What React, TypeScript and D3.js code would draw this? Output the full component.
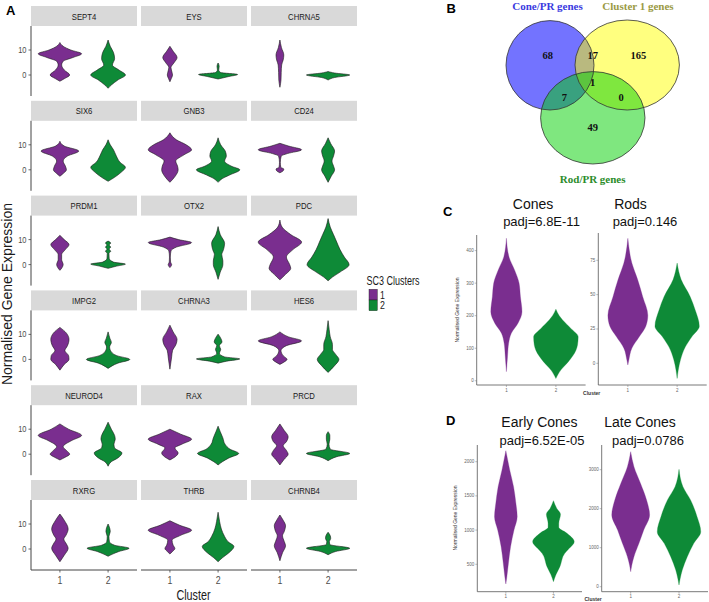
import React from 'react';
import * as d3 from 'd3';

type Pt = [number, number];

const PURPLE = '#7a2e8f';
const GREEN = '#0e8a37';
const clusterColors = [PURPLE, GREEN];

const clusters = ['1', '2'];
const genes = ['SEPT4', 'EYS', 'CHRNA5', 'SIX6', 'GNB3', 'CD24', 'PRDM1', 'OTX2', 'PDC',
  'IMPG2', 'CHRNA3', 'HES6', 'NEUROD4', 'RAX', 'PRCD', 'RXRG', 'THRB', 'CHRNB4'];
const yTicksA = [0, 10];

// violin outlines, top to bottom: [expression, relative half width], [cluster 1, cluster 2]
const SEPT4: Pt[][] = [
  [[13, 0], [11.5, 0.15], [10, 0.5], [8.5, 1.0], [7, 0.6], [5.5, 0.15], [4, 0.08], [2, 0.2], [0, 0.45], [-1.5, 0.2], [-2.5, 0]],
  [[14, 0], [11.5, 0.1], [9, 0.25], [6.5, 0.3], [4, 0.2], [2, 0.5], [0, 0.8], [-2, 0.45], [-4, 0.15], [-5.3, 0]],
];
const EYS: Pt[][] = [
  [[11.5, 0], [9.5, 0.15], [7, 0.33], [5, 0.2], [3, 0.05], [1, 0.1], [0, 0.12], [-1.5, 0.06], [-2.7, 0]],
  [[4.8, 0], [3.5, 0.05], [2, 0.03], [1, 0.12], [0.2, 0.9], [-0.6, 0.5], [-1.6, 0]],
];
const CHRNA5: Pt[][] = [
  [[14, 0], [11, 0.07], [8, 0.18], [6, 0.15], [4, 0.08], [1, 0.06], [-2, 0.05], [-4.9, 0]],
  [[1.4, 0], [0.8, 0.3], [0, 1.0], [-1, 0.3], [-2, 0]],
];
const SIX6: Pt[][] = [
  [[11.4, 0], [9.5, 0.2], [7.5, 0.87], [5.5, 0.35], [3.5, 0.15], [1.5, 0.25], [0, 0.3], [-1.5, 0.15], [-2.6, 0]],
  [[12, 0], [10, 0.1], [8, 0.25], [5.5, 0.38], [3, 0.55], [1, 0.8], [-1, 0.6], [-3, 0.3], [-4.6, 0]],
];
const GNB3: Pt[][] = [
  [[14.8, 0], [12, 0.3], [10, 0.75], [8, 1.0], [6, 0.65], [3.5, 0.27], [1.5, 0.35], [0, 0.38], [-2.5, 0.25], [-5, 0]],
  [[12.8, 0], [10, 0.12], [7.5, 0.33], [5.5, 0.38], [3.5, 0.3], [1.5, 0.6], [0, 1.0], [-2, 0.55], [-3.5, 0.2], [-5, 0]],
];
const CD24: Pt[][] = [
  [[10.6, 0], [9.5, 0.4], [8, 1.0], [6.5, 0.35], [5.5, 0.06], [3, 0.02], [1, 0.04], [0.3, 0.18], [-0.4, 0.15], [-1.2, 0]],
  [[12.8, 0], [10.5, 0.12], [7.5, 0.3], [5.5, 0.25], [3.5, 0.18], [1.5, 0.25], [0, 0.3], [-2.5, 0.15], [-5, 0]],
];
const PRDM1: Pt[][] = [
  [[11.7, 0], [10, 0.2], [8, 0.42], [6, 0.25], [4, 0.08], [2, 0.08], [0, 0.15], [-1.2, 0.1], [-2.3, 0]],
  [[9.4, 0], [8.6, 0.12], [7.8, 0.05], [7, 0.12], [6.2, 0.05], [5.3, 0.12], [4.5, 0.04], [2.5, 0.05], [1, 0.25], [0.2, 0.8], [-0.6, 0.4], [-1.5, 0]],
];
const OTX2: Pt[][] = [
  [[11, 0], [10, 0.4], [8.8, 1.0], [7, 0.3], [5.5, 0.05], [3, 0.02], [1, 0.03], [0, 0.08], [-1.2, 0]],
  [[15.2, 0], [12, 0.1], [8.5, 0.3], [6, 0.25], [4, 0.17], [1.5, 0.22], [0, 0.22], [-3, 0.1], [-5.9, 0]],
];
const PDC: Pt[][] = [
  [[17.8, 0], [15, 0.1], [12, 0.5], [9, 1.0], [6, 0.6], [3, 0.3], [0, 0.45], [-1.5, 0.5], [-4, 0.25], [-6.1, 0]],
  [[18.4, 0], [15, 0.1], [12, 0.25], [9, 0.4], [6, 0.55], [3, 0.75], [0, 0.97], [-3, 0.55], [-5, 0.2], [-6.5, 0]],
];
const IMPG2: Pt[][] = [
  [[12.8, 0], [10.5, 0.3], [8, 0.42], [5.5, 0.35], [3.5, 0.23], [1.5, 0.4], [0, 0.42], [-2, 0.2], [-4.3, 0]],
  [[11, 0], [8.5, 0.08], [6.8, 0.15], [5, 0.07], [3, 0.15], [1.5, 0.4], [0, 1.0], [-1.5, 0.45], [-3.6, 0]],
];
const CHRNA3: Pt[][] = [
  [[13.7, 0], [11, 0.15], [8, 0.33], [6, 0.28], [3.5, 0.12], [1, 0.08], [-1.5, 0.04], [-3.9, 0]],
  [[10.1, 0], [8.5, 0.12], [7, 0.18], [5.5, 0.06], [4, 0.12], [2.5, 0.06], [1, 0.3], [0.2, 1.0], [-0.7, 0.4], [-1.5, 0]],
];
const HES6: Pt[][] = [
  [[11, 0], [9, 0.4], [7.4, 1.0], [5.5, 0.3], [3.5, 0.05], [1.5, 0.15], [0, 0.33], [-1, 0.2], [-2, 0]],
  [[15.5, 0], [12, 0.05], [9, 0.1], [6, 0.2], [4, 0.2], [2, 0.35], [0, 0.5], [-2.5, 0.3], [-5.2, 0]],
];
const NEUROD4: Pt[][] = [
  [[12.1, 0], [10, 0.4], [7.5, 1.0], [5.5, 0.55], [3, 0.15], [1.5, 0.3], [0, 0.45], [-1.2, 0.25], [-2.3, 0]],
  [[12.8, 0], [10, 0.15], [7.5, 0.3], [6, 0.33], [4, 0.27], [2.5, 0.3], [0.5, 0.64], [-1.5, 0.45], [-3, 0.15], [-4.8, 0]],
];
const RAX: Pt[][] = [
  [[10, 0], [8, 0.5], [6, 1.0], [4, 0.55], [2.5, 0.23], [0.5, 0.38], [-1, 0.25], [-2.3, 0]],
  [[11.2, 0], [9, 0.1], [6.5, 0.22], [4, 0.32], [2, 0.55], [0.3, 0.95], [-1.5, 0.5], [-3, 0.2], [-4.3, 0]],
];
const PRCD: Pt[][] = [
  [[12.1, 0], [9.5, 0.2], [7, 0.38], [5, 0.3], [3.4, 0.15], [1.5, 0.3], [0, 0.38], [-2, 0.2], [-4.3, 0]],
  [[9, 0], [7.5, 0.08], [6, 0.08], [4, 0.04], [2, 0.1], [0.3, 1.0], [-1, 0.4], [-2.6, 0]],
];
const RXRG: Pt[][] = [
  [[14, 0], [11.5, 0.2], [8, 0.38], [5.5, 0.28], [4, 0.18], [2, 0.3], [0.3, 0.38], [-2.5, 0.2], [-5.1, 0]],
  [[10, 0], [8.5, 0.07], [7, 0.1], [5, 0.04], [3, 0.06], [1.5, 0.3], [0.3, 0.97], [-1, 0.5], [-2.9, 0]],
];
const THRB: Pt[][] = [
  [[11.3, 0], [9.5, 0.45], [7.5, 1.0], [5.5, 0.5], [3.5, 0.1], [1.5, 0.15], [0.2, 0.23], [-1, 0.12], [-2, 0]],
  [[14.7, 0], [11, 0.07], [8, 0.15], [5, 0.3], [3, 0.45], [1, 0.73], [-1.5, 0.5], [-3.5, 0.2], [-5.1, 0]],
];
const CHRNB4: Pt[][] = [
  [[13.6, 0], [11.5, 0.15], [9.3, 0.26], [7, 0.2], [5.3, 0.12], [3, 0.2], [1.3, 0.26], [-1.5, 0.12], [-4.7, 0]],
  [[6.7, 0], [5.3, 0.1], [4.2, 0.12], [3, 0.06], [1.8, 0.08], [0.3, 1.0], [-1, 0.35], [-2.3, 0]],
];
const geneViolins = [SEPT4, EYS, CHRNA5, SIX6, GNB3, CD24, PRDM1, OTX2, PDC,
  IMPG2, CHRNA3, HES6, NEUROD4, RAX, PRCD, RXRG, THRB, CHRNB4];

// panels C and D
const conesViolins: Pt[][] = [
  [[438, 0], [380, 0.12], [340, 0.37], [300, 0.57], [258, 0.63], [212, 0.7], [177, 0.52], [146, 0.22], [115, 0.1], [74, 0.05], [28, 0]],
  [[220, 0], [200, 0.15], [187, 0.3], [161, 0.67], [135, 1.0], [110, 0.97], [94, 0.9], [58, 0.55], [33, 0.22], [7, 0]],
];
const rodsViolins: Pt[][] = [
  [[91, 0], [73, 0.18], [61, 0.44], [48.5, 0.67], [35, 0.9], [27, 0.81], [19.5, 0.52], [11, 0.18], [2, 0.04], [-1.2, 0]],
  [[73, 0], [61, 0.18], [48.5, 0.59], [39, 0.81], [27, 1.0], [19.5, 0.67], [12, 0.37], [2.5, 0.15], [-5, 0.05], [-11, 0]],
];
const earlyConesViolins: Pt[][] = [
  [[2161, 0], [1880, 0.18], [1635, 0.36], [1390, 0.47], [1196, 0.53], [1000, 0.38], [757, 0.22], [514, 0.12], [300, 0.04], [212, 0]],
  [[1430, 0], [1320, 0.15], [1230, 0.33], [1100, 0.25], [1040, 0.25], [960, 0.6], [830, 0.97], [720, 0.7], [660, 0.53], [465, 0.3], [350, 0.12], [246, 0]],
];
const lateConesViolins: Pt[][] = [
  [[3462, 0], [3077, 0.15], [2650, 0.45], [2223, 0.73], [1840, 0.87], [1454, 0.6], [1113, 0.38], [770, 0.15], [550, 0.05], [385, 0]],
  [[3010, 0], [2564, 0.18], [2223, 0.53], [1795, 0.83], [1410, 1.0], [1113, 0.68], [769, 0.38], [428, 0.15], [200, 0.05], [44, 0]],
];
const conesTicks = [0, 100, 200, 300, 400];
const rodsTicks = [0, 25, 50, 75];
const earlyConesTicks = [500, 1000, 1500, 2000];
const lateConesTicks = [0, 1000, 2000, 3000];
const subTitles = ['Cones', 'Rods', 'Early Cones', 'Late Cones'];
const padjLabels = ['padj=6.8E-11', 'padj=0.146', 'padj=6.52E-05', 'padj=0.0786'];

// panel B
const vennSets = ['Cone/PR genes', 'Cluster 1 genes', 'Rod/PR genes'];
const vennCounts = [68, 17, 165, 1, 7, 0, 49];

const SANS = "'Liberation Sans', Arial, sans-serif";
const SERIF = "'Liberation Serif', 'Times New Roman', serif";

// Arial Narrow look-alike: squeeze Liberation Sans horizontally
const Narrow = ({ x, y, size, sx = 0.82, anchor = 'start', fill = '#1a1a1a', children }:
  { x: number; y: number; size: number; sx?: number; anchor?: string; fill?: string; children: React.ReactNode }) => (
  <text transform={`translate(${x},${y}) scale(${sx},1)`} textAnchor={anchor} fontSize={size} fill={fill}
    fontFamily={SANS}>{children}</text>
);

const violinPath = (profile: Pt[], cx: number, half: number, y: d3.ScaleLinear<number, number>) =>
  d3.area<Pt>()
    .y(d => y(d[0]))
    .x0(d => cx - d[1] * half)
    .x1(d => cx + d[1] * half)
    .curve(d3.curveMonotoneY)(profile) || '';

const PanelA = () => {
  const colX = [31, 141, 251];
  const colW = 106;
  const stripH = 20;
  const panelH = 70;
  const nodes: React.ReactNode[] = [];

  genes.forEach((gene, i) => {
    const r = Math.floor(i / 3);
    const c = i % 3;
    const top = 6 + r * 94.8;
    const x = d3.scalePoint().domain(clusters).range([colX[c], colX[c] + colW]).padding(0.6);
    const y = d3.scaleLinear().domain([-8.4, 19.6]).range([top + stripH + panelH, top + stripH]);
    const half = x.step() * 0.45;
    nodes.push(
      <g key={gene}>
        <rect x={colX[c]} y={top} width={colW} height={stripH} fill="#d9d9d9" />
        <Narrow x={colX[c] + colW / 2} y={top + 13.5} size={9} sx={0.86} anchor="middle">{gene}</Narrow>
        {geneViolins[i].map((prof, k) => (
          <path key={k} d={violinPath(prof, x(clusters[k])!, half, y)} fill={clusterColors[k]}
            stroke="#1a1a1a" strokeWidth={0.6} />
        ))}
        {c === 0 && (
          <g>
            <line x1={colX[0]} x2={colX[0]} y1={y.range()[1]} y2={y.range()[0]} stroke="#444" strokeWidth={1} />
            {yTicksA.map(t => (
              <g key={t}>
                <line x1={colX[0] - 2.5} x2={colX[0]} y1={y(t)} y2={y(t)} stroke="#444" strokeWidth={0.8} />
                <Narrow x={colX[0] - 4.5} y={y(t) + 3} size={8.5} sx={0.88} anchor="end" fill="#4d4d4d">{t}</Narrow>
              </g>
            ))}
          </g>
        )}
        {r === 5 && (
          <g>
            <line x1={colX[c]} x2={colX[c] + colW} y1={y.range()[0]} y2={y.range()[0]} stroke="#444" strokeWidth={1} />
            {clusters.map(k => (
              <g key={k}>
                <line x1={x(k)} x2={x(k)} y1={y.range()[0]} y2={y.range()[0] + 2.5} stroke="#444" strokeWidth={0.8} />
                <Narrow x={x(k)!} y={y.range()[0] + 14} size={11} sx={0.8} anchor="middle" fill="#4d4d4d">{k}</Narrow>
              </g>
            ))}
          </g>
        )}
      </g>
    );
  });

  return (
    <g>
      {nodes}
      <text x={6} y={15} fontSize={13} fontWeight="bold" fontFamily={SANS}>A</text>
      <text transform="translate(12,294) rotate(-90)" textAnchor="middle" fontSize={14} fill="#1a1a1a"
        fontFamily={SANS}>Normalised Gene Expression</text>
      <Narrow x={193.5} y={599.5} size={14} sx={0.77} anchor="middle">Cluster</Narrow>
      <Narrow x={366.5} y={285} size={12.5} sx={0.72}>SC3 Clusters</Narrow>
      {clusters.map((k, i) => (
        <g key={k}>
          <rect x={369} y={289.3 + i * 10.7} width={8.3} height={10.7} fill={clusterColors[i]}
            stroke="#1a1a1a" strokeWidth={0.4} />
          <Narrow x={380} y={298.5 + i * 10.7} size={11} sx={0.8}>{k}</Narrow>
        </g>
      ))}
    </g>
  );
};

const PanelB = () => {
  const shapes = [
    { cx: 550, cy: 65.3, rx: 44, ry: 44.7, fill: '#0000ff', op: 0.55 },
    { cx: 627.2, cy: 65, rx: 52.2, ry: 45, fill: '#ffff00', op: 0.5 },
    { cx: 592.8, cy: 117.8, rx: 52.2, ry: 46.2, fill: '#00d000', op: 0.5 },
  ];
  const titleColors = ['#3a3ae0', '#9a9a44', '#2b8c2b'];
  const titlePos: Pt[] = [[547.5, 9.5], [638, 9.5], [592.7, 183]];
  const countPos: Pt[] = [[547.7, 55], [592.7, 55], [638.3, 55], [592.7, 81.7], [564.3, 96.7], [621, 96.7], [592.7, 127.3]];
  return (
    <g>
      <text x={446.5} y={13.3} fontSize={13} fontWeight="bold" fontFamily={SANS}>B</text>
      {shapes.map((s, i) => (
        <ellipse key={i} cx={s.cx} cy={s.cy} rx={s.rx} ry={s.ry} fill={s.fill} fillOpacity={s.op} />
      ))}
      {shapes.map((s, i) => (
        <ellipse key={'o' + i} cx={s.cx} cy={s.cy} rx={s.rx} ry={s.ry} fill="none" stroke="#333" strokeWidth={0.8} />
      ))}
      {vennSets.map((s, i) => (
        <text key={s} x={titlePos[i][0]} y={titlePos[i][1]} textAnchor="middle" fontSize={11}
          fontWeight="bold" fill={titleColors[i]} fontFamily={SERIF}>{s}</text>
      ))}
      {vennCounts.map((n, i) => (
        <text key={i} x={countPos[i][0]} y={countPos[i][1] + 3.8} textAnchor="middle" fontSize={10.5}
          fontWeight="bold" fill="#111" fontFamily={SERIF}>{n}</text>
      ))}
    </g>
  );
};

type SmallProps = {
  left: number; right: number; top: number; bottom: number; domain: [number, number];
  ticks: number[]; violins: Pt[][]; title: string; padj: string;
  titleX: number; titleY: number; padjX: number; padjY: number;
};

const SmallViolin = (p: SmallProps) => {
  const x = d3.scalePoint().domain(clusters).range([p.left, p.right]).padding(0.6);
  const y = d3.scaleLinear().domain(p.domain).range([p.bottom, p.top]);
  const half = x.step() * 0.45;
  return (
    <g>
      <text x={p.titleX} y={p.titleY} textAnchor="middle" fontSize={14} fill="#111" fontFamily={SANS}>{p.title}</text>
      <text x={p.padjX} y={p.padjY} textAnchor="middle" fontSize={13} fill="#111" fontFamily={SANS}>{p.padj}</text>
      {p.violins.map((prof, k) => (
        <path key={k} d={violinPath(prof, x(clusters[k])!, half, y)} fill={clusterColors[k]}
          stroke={clusterColors[k]} strokeWidth={0.3} />
      ))}
      <line x1={p.left} x2={p.left} y1={p.top} y2={p.bottom} stroke="#555" strokeWidth={0.8} />
      <line x1={p.left} x2={p.right} y1={p.bottom} y2={p.bottom} stroke="#555" strokeWidth={0.8} />
      {p.ticks.map(t => (
        <g key={t}>
          <line x1={p.left - 2} x2={p.left} y1={y(t)} y2={y(t)} stroke="#777" strokeWidth={0.5} />
          <text x={p.left - 3} y={y(t) + 1.5} textAnchor="end" fontSize={4.5} fill="#666" fontFamily={SANS}>{t}</text>
        </g>
      ))}
      {clusters.map(k => (
        <g key={k}>
          <line x1={x(k)} x2={x(k)} y1={p.bottom} y2={p.bottom + 2} stroke="#777" strokeWidth={0.5} />
          <text x={x(k)} y={p.bottom + 6.5} textAnchor="middle" fontSize={4.5} fill="#666" fontFamily={SANS}>{k}</text>
        </g>
      ))}
    </g>
  );
};

const PanelCD = () => (
  <g>
    <text x={443} y={215.5} fontSize={13} fontWeight="bold" fontFamily={SANS}>C</text>
    <SmallViolin left={476.7} right={585.6} top={235} bottom={385} domain={[-13, 448]} ticks={conesTicks}
      violins={conesViolins} title={subTitles[0]} padj={padjLabels[0]}
      titleX={533} titleY={208.5} padjX={541.5} padjY={226} />
    <SmallViolin left={598.3} right={706.7} top={233} bottom={385} domain={[-15.8, 94.9]} ticks={rodsTicks}
      violins={rodsViolins} title={subTitles[1]} padj={padjLabels[1]}
      titleX={630.5} titleY={208.5} padjX={645} padjY={226} />
    <text transform="translate(459,310) rotate(-90)" textAnchor="middle" fontSize={5} fill="#333"
      fontFamily={SANS}>Normalised Gene Expression</text>
    <text x={591.7} y={395} textAnchor="middle" fontSize={5} fontWeight="bold" fill="#333" fontFamily={SANS}>Cluster</text>

    <text x={446} y={425} fontSize={13} fontWeight="bold" fontFamily={SANS}>D</text>
    <SmallViolin left={477.3} right={582} top={445} bottom={591.7} domain={[99, 2244]} ticks={earlyConesTicks}
      violins={earlyConesViolins} title={subTitles[2]} padj={padjLabels[2]}
      titleX={539.5} titleY={426.5} padjX={542} padjY={445} />
    <SmallViolin left={601.7} right={708} top={445} bottom={591.7} domain={[-128, 3633]} ticks={lateConesTicks}
      violins={lateConesViolins} title={subTitles[3]} padj={padjLabels[3]}
      titleX={640} titleY={426.5} padjX={648} padjY={445} />
    <text transform="translate(457,518) rotate(-90)" textAnchor="middle" fontSize={5} fill="#333"
      fontFamily={SANS}>Normalised Gene Expression</text>
    <text x={593} y={600.5} textAnchor="middle" fontSize={5} fontWeight="bold" fill="#333" fontFamily={SANS}>Cluster</text>
  </g>
);

export default function App() {
  return (
    <svg width={709} height={602} viewBox="0 0 709 602"
      style={{ position: 'absolute', left: 0, top: 0, display: 'block', background: '#fff' }}>
      <rect width={709} height={602} fill="#fff" />
      <PanelA />
      <PanelB />
      <PanelCD />
    </svg>
  );
}
